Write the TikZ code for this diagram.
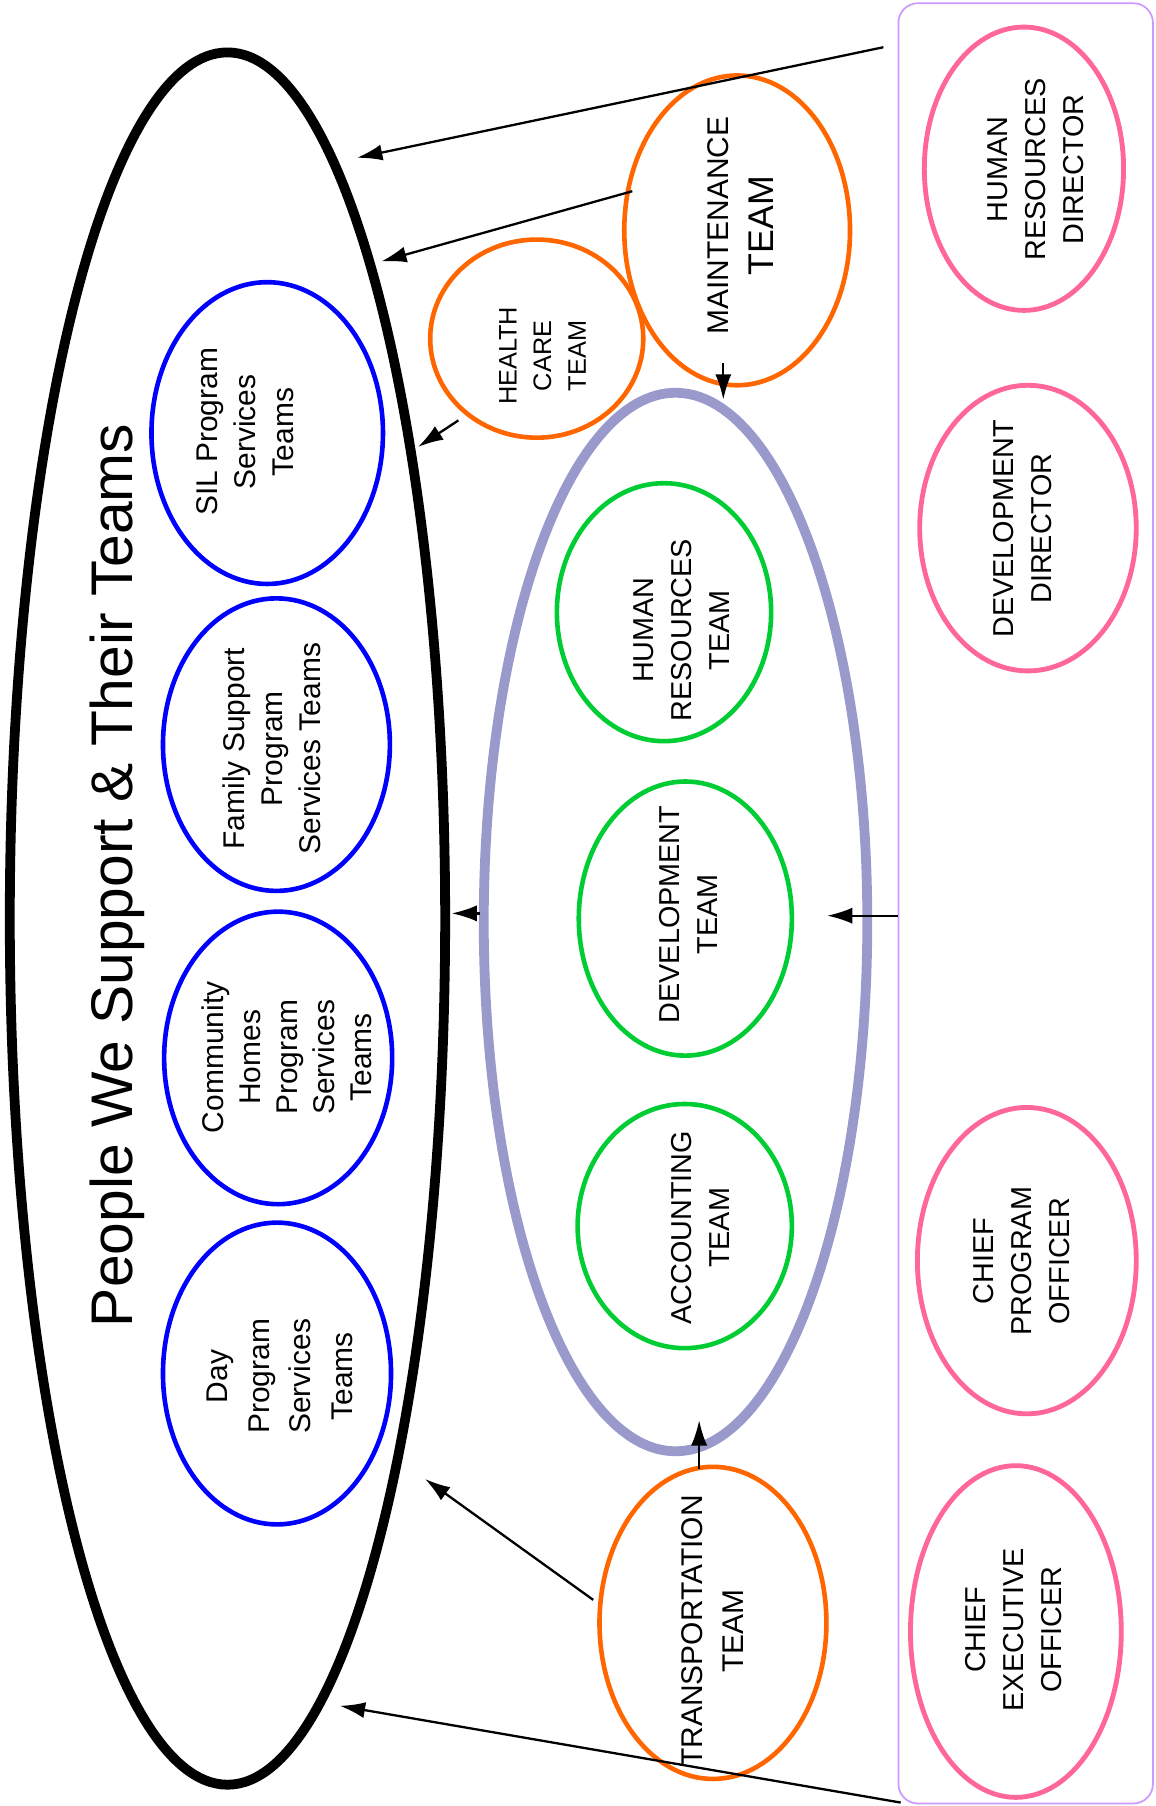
\documentclass[tikz,border=0pt]{standalone}
\usepackage{fontspec}
\setmainfont{Liberation Sans}
\usepackage{tikz}
\usetikzlibrary{arrows.meta,shapes.geometric}
\usepackage{xcolor}
\definecolor{svcblue}{HTML}{0000FF}
\definecolor{suporange}{HTML}{FF6600}
\definecolor{corpgreen}{HTML}{00CC33}
\definecolor{corplav}{HTML}{9999CC}
\definecolor{leadpink}{HTML}{FF6699}
\definecolor{leadpurple}{HTML}{CC99FF}
\tikzset{
  team/.style={ellipse, draw=#1, line width=4pt, inner sep=0pt, outer sep=0pt},
  lbl/.style={rotate=90, align=center, inner sep=0pt, font=\fontsize{25}{33}\selectfont},
  link/.style={-{Latex[length=22pt,width=14pt]}, line width=2pt},
}

\begin{document}
\begin{tikzpicture}[x=1pt, y=-1pt]
\useasboundingbox (0,0) rectangle (1003,1568);

%% People we support (outer ring)
\node[team=black, line width=8.5pt, minimum width=378pt, minimum height=1504pt] (pws) at (197.5,797.5) {};
\node[lbl, font=\fontsize{51}{60}\selectfont] (title) at (102,760) {People We Support \& Their Teams};

% program services teams
\node[team=svcblue, minimum width=201pt, minimum height=262pt] (sil) at (232,376) {};
\node[lbl, font=\fontsize{26}{33}\selectfont] (silT) at (213,375) {SIL Program\\Services\\Teams};
\node[team=svcblue, minimum width=197pt, minimum height=254pt] (fam) at (240,646.5) {};
\node[lbl, font=\fontsize{26}{33}\selectfont] (famT) at (236,650) {Family Support\\Program\\Services Teams};
\node[team=svcblue, minimum width=198pt, minimum height=254pt] (chome) at (241.5,918.5) {};
\node[lbl, font=\fontsize{26}{32}\selectfont] (chomeT) at (249,918) {Community\\Homes\\Program\\Services\\Teams};
\node[team=svcblue, minimum width=198pt, minimum height=262pt] (day) at (240.5,1192.5) {};
\node[lbl, font=\fontsize{26}{36}\selectfont] (dayT) at (243,1195) {Day\\Program\\Services\\Teams};

%% Support teams (orange)
\node[team=suporange, minimum width=196pt, minimum height=269pt] (maint) at (640,200) {};
\node[lbl, font=\fontsize{26}{39}\selectfont] (maintT) at (643,196) {MAINTENANCE\\{\fontsize{31}{39}\selectfont TEAM}};
\node[team=suporange, minimum width=185pt, minimum height=172pt] (hc) at (466,294) {};
\node[lbl, font=\fontsize{22}{30}\selectfont] (hcT) at (471,309) {HEALTH\\CARE\\TEAM};
\node[team=suporange, minimum width=197pt, minimum height=271pt] (trans) at (619,1409) {};
\node[lbl, font=\fontsize{26}{35}\selectfont] (transT) at (618.5,1416) {TRANSPORTATION\\TEAM};

%% Corporate teams (lavender ring)
\node[team=corplav, line width=8.5pt, minimum width=333pt, minimum height=919pt] (corp) at (586.5,800.5) {};
\node[team=corpgreen, minimum width=186pt, minimum height=224pt] (hrt) at (576.5,531.5) {};
\node[lbl] (hrtT) at (592,547) {HUMAN\\RESOURCES\\TEAM};
\node[team=corpgreen, minimum width=185pt, minimum height=238pt] (devt) at (595,797.5) {};
\node[lbl] (devtT) at (598,794) {DEVELOPMENT\\TEAM};
\node[team=corpgreen, minimum width=186pt, minimum height=212pt] (acct) at (594.5,1064.5) {};
\node[lbl] (acctT) at (608,1066) {ACCOUNTING\\TEAM};

%% Leadership box
\node[draw=leadpurple, line width=1.5pt, rounded corners=17pt, inner sep=0pt,
  minimum width=221pt, minimum height=1563pt] (lead) at (890.5,784.3) {};
\node[team=leadpink, line width=4.2pt, minimum width=173pt, minimum height=246pt] (hrd) at (889,146.5) {};
\node[lbl] (hrdT) at (899,147) {HUMAN\\RESOURCES\\DIRECTOR};
\node[team=leadpink, line width=4.2pt, minimum width=188pt, minimum height=248pt] (devd) at (892.5,458.5) {};
\node[lbl] (devdT) at (888,459) {DEVELOPMENT\\DIRECTOR};
\node[team=leadpink, line width=4.2pt, minimum width=190pt, minimum height=266pt] (cpo) at (891.5,1094.5) {};
\node[lbl] (cpoT) at (887,1095) {CHIEF\\PROGRAM\\OFFICER};
\node[team=leadpink, line width=4.2pt, minimum width=183pt, minimum height=288pt] (ceo) at (882,1416.5) {};
\node[lbl] (ceoT) at (880,1415) {CHIEF\\EXECUTIVE\\OFFICER};

%% Connector ends
\coordinate (leadNW) at (767,41);
\coordinate (pwsA) at (310,137);
\coordinate (maintW) at (549,166);
\coordinate (pwsB) at (331,227);
\coordinate (hcSW) at (398,365);
\coordinate (pwsC) at (363,388);
\coordinate (maintS) at (628,315);
\coordinate (corpN) at (628,347);
\coordinate (corpW) at (417,793);
\coordinate (pwsD) at (392,793);
\coordinate (leadW) at (780,795);
\coordinate (corpE) at (718,795);
\coordinate (transN) at (607,1275);
\coordinate (corpS) at (607,1233);
\coordinate (transW) at (515,1389);
\coordinate (pwsE) at (369,1284);
\coordinate (leadSW) at (782,1565);
\coordinate (pwsF) at (295,1481);

%% Reporting lines
\draw[link] (leadNW) -- (pwsA);
\draw[link] (maintW) -- (pwsB);
\draw[link] (hcSW) -- (pwsC);
\draw[link] (maintS) -- (corpN);
\draw[link] (corpW) -- (pwsD);
\draw[link] (leadW) -- (corpE);
\draw[link] (transN) -- (corpS);
\draw[link] (transW) -- (pwsE);
\draw[link] (leadSW) -- (pwsF);

\end{tikzpicture}
\end{document}
